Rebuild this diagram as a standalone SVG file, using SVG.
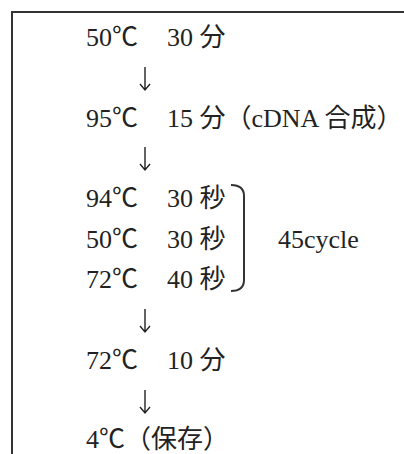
<svg xmlns="http://www.w3.org/2000/svg" width="404" height="454" viewBox="0 0 404 454">
<style>
.t{font-family:"Liberation Serif","Noto Sans CJK JP",serif;font-size:26px;fill:#222}
.f{fill:none;stroke:#333;stroke-width:2}
.c{fill:none;stroke:#222;stroke-width:1.4;stroke-linejoin:miter}
</style>
<defs>
<path id="arr" class="c" d="M0 0 V23 M-5 17 L0 23 L5 17"/>
</defs>
<rect width="404" height="454" fill="#fff"/>
<path class="f" d="M12 454 V12 H404"/>
<g id="step1"><text class="t" x="86" y="46">50℃</text><text class="t" x="167" y="46">30 分</text></g>
<g id="step2"><text class="t" x="86" y="127">95℃</text><text class="t" x="167" y="127">15 分（cDNA 合成）</text></g>
<g id="cycle">
<text class="t" x="86" y="207">94℃</text><text class="t" x="167" y="207">30 秒</text>
<text class="t" x="86" y="248">50℃</text><text class="t" x="167" y="248">30 秒</text>
<text class="t" x="86" y="288">72℃</text><text class="t" x="167" y="288">40 秒</text>
<path class="f" d="M231 185 Q244 185 244 196 V280 Q244 291 231 291"/>
<text class="t" x="278" y="248">45cycle</text>
</g>
<g id="step4"><text class="t" x="86" y="369">72℃</text><text class="t" x="167" y="369">10 分</text></g>
<g id="step5"><text class="t" x="86" y="448">4℃（保存）</text></g>
<g id="connectors">
<use href="#arr" x="145" y="67"/>
<use href="#arr" x="145" y="147"/>
<use href="#arr" x="145" y="309"/>
<use href="#arr" x="145" y="390"/>
</g>
</svg>
